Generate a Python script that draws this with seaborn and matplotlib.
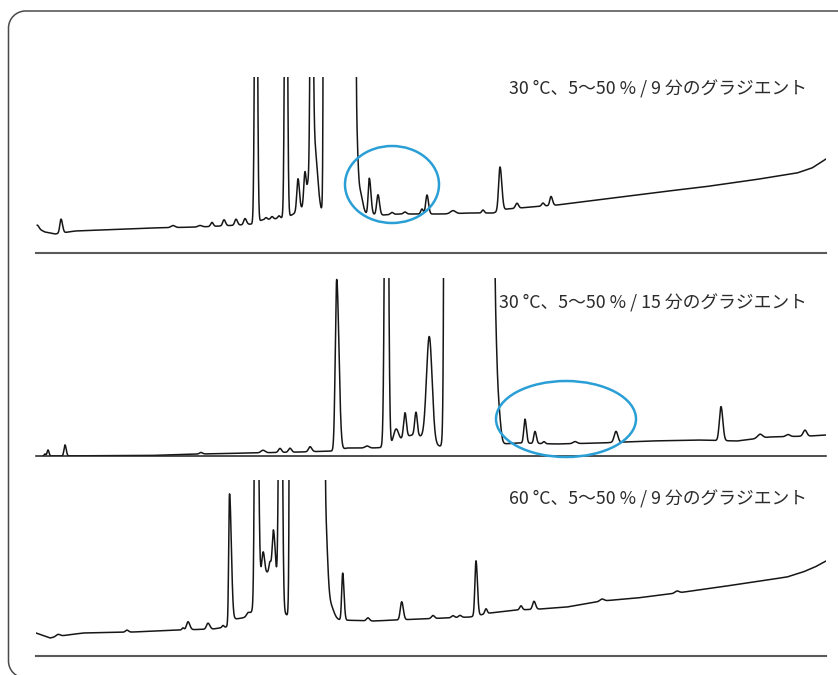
import numpy as np
import pandas as pd
import matplotlib
matplotlib.use("Agg")
import matplotlib.pyplot as plt
from matplotlib.patches import Ellipse, PathPatch
from matplotlib.path import Path
from matplotlib.transforms import IdentityTransform
import seaborn as sns

# ---------------- data (retention position in a.u., signal in a.u.) ----------------
labels = ["30 °C、5～50 % / 9 分のグラジエント",
          "30 °C、5～50 % / 15 分のグラジエント",
          "60 °C、5～50 % / 9 分のグラジエント"]

# Panel 1 : 30 C, 9 min gradient
p1_base_x = [37, 45, 55, 75, 100, 150, 200, 240, 252, 262, 283, 300, 322, 365, 383,
             400, 443, 470, 493, 507, 520, 530, 557, 580, 620, 660, 703, 753, 797, 812, 826]
p1_base_y = [25, 21, 19, 22, 23, 25, 26, 28, 29, 33, 35, 37, 38, 39, 38,
             39, 39, 40, 40, 44, 45, 46, 48, 51, 56, 61, 66, 73, 80, 85, 94]
p1_pos = [37.5, 61, 173, 200, 212, 224, 236, 245, 256, 266, 272, 279, 286, 305, 298,
          305, 308, 311.5, 314, 339.5, 356, 360, 369.3, 378, 392, 405, 422, 427, 453,
          483, 500, 517, 543, 551]
p1_height = [3, 14, 2, 1.5, 4, 6, 6, 6, 500, 2, 2.5, 2.5, 500, 8, 32,
             36, 20, 400, 70, 1e12, 85, 22, 36, 20, 2, 2, 5, 19, 3,
             3, 44, 5, 3, 9]
p1_wl = [1.5, 1.2, 2, 2, 1.3, 1.3, 1.3, 1.3, 1.15, 1.2, 1.2, 1.2, 1.15, 8, 1.2,
         1.2, 1.0, 1.2, 1.5, 2.45, 1.6, 2.5, 1.1, 1.3, 1.5, 1.5, 1.2, 1.3, 2.5,
         1.2, 1.4, 1.5, 1.3, 1.2]
p1_wr = [1.5, 1.5, 2, 2, 1.3, 1.5, 1.5, 1.5, 1.15, 1.2, 1.2, 1.2, 1.15, 8, 1.4,
         1.3, 1.0, 1.2, 3.2, 2.45, 1.6, 2.5, 1.6, 1.5, 1.5, 1.5, 1.2, 1.5, 2.5,
         1.2, 1.8, 1.5, 1.3, 1.5]

# Panel 2 : 30 C, 15 min gradient
p2_base_x = [43, 150, 200, 250, 300, 333, 340, 347, 383, 442, 500, 520, 557, 600,
             650, 697, 737, 770, 810, 826]
p2_base_y = [0, 0.5, 2, 3, 4, 5, 6, 8, 8, 8, 12, 13, 12, 13,
             15, 16, 15, 19, 20, 21]
p2_pos = [45, 48, 65, 201, 263, 280, 290, 310, 336.7, 367, 386.5, 396, 414, 405,
          416, 429.3, 469, 495, 498, 525, 535, 544, 575, 616, 721, 760, 788, 805]
p2_height = [2, 6, 11, 1.5, 2.5, 4, 4, 5, 171, 2, 600, 14, 13, 25,
             23, 105, 1e12, 100, 40, 24, 12, 2, 2, 11, 34, 4, 2, 6]
p2_wl = [0.8, 0.9, 1.0, 1.5, 2, 1.5, 1.5, 1.5, 1.4, 2, 1.5, 2.5, 13, 1.4,
         1.3, 2.8, 3.8, 1.6, 2.2, 1.2, 1.2, 1.2, 2, 1.8, 1.6, 2.5, 2, 1.8]
p2_wr = [0.8, 1.0, 1.2, 1.5, 2, 1.5, 1.5, 1.8, 2.2, 2, 1.5, 2.5, 13, 1.4,
         1.3, 2.8, 3.8, 1.6, 2.2, 1.4, 1.4, 1.2, 2, 1.8, 1.8, 2.5, 2, 1.8]

# Panel 3 : 60 C, 9 min gradient
p3_base_x = [36, 50, 60, 83, 133, 180, 213, 226, 235, 253, 288, 340, 373, 420, 470,
             490, 517, 540, 567, 602, 637, 677, 720, 753, 787, 803, 815, 826]
p3_base_y = [23, 18, 20, 23, 24, 26, 27, 29, 37, 39, 38, 36, 35, 37, 39,
             43, 46, 47, 49, 55, 58, 63, 69, 74, 79, 84, 89, 95]
p3_pos = [58, 127, 183, 188, 208, 223, 229.5, 248, 256, 263, 268, 270, 273.5, 280.5,
          307, 325, 330, 342.7, 368, 401.7, 433, 453, 460, 476, 486, 521, 534, 602, 677]
p3_height = [2, 2, 2, 8, 6, 2, 130, 3, 500, 28, 45, 11, 52, 500,
             1e12, 100, 15, 47, 3, 18, 3, 2, 2, 55, 5, 4, 8, 2, 2]
p3_wl = [2, 1.5, 1, 1.5, 1.5, 1, 0.8, 1.5, 1.15, 1.5, 8, 1.0, 1.3, 1.4,
         2.67, 2.2, 3.5, 1.0, 1.5, 1.4, 1.5, 1.5, 1.5, 1.1, 1.2, 1.3, 1.4, 2, 2]
p3_wr = [2, 1.5, 1, 1.8, 1.8, 1, 1.8, 1.5, 1.75, 1.5, 8, 1.0, 2.0, 1.4,
         2.67, 2.2, 3.5, 1.3, 1.5, 1.6, 1.5, 1.5, 1.5, 1.4, 1.2, 1.3, 1.6, 2, 2]

panels = [
    (p1_base_x, p1_base_y, p1_pos, p1_height, p1_wl, p1_wr),
    (p2_base_x, p2_base_y, p2_pos, p2_height, p2_wl, p2_wr),
    (p3_base_x, p3_base_y, p3_pos, p3_height, p3_wl, p3_wr),
]

# highlighted regions (centre x, centre y, width, height) per panel
ellipses = {0: (392, 68.5, 94, 77), 1: (566, 37, 140, 76)}


def build_trace(bx, by, pos, height, wl, wr):
    x = np.arange(bx[0], bx[-1] + 0.05, 0.1)
    y = np.interp(x, bx, by)
    for c, a, sl, sr in zip(pos, height, wl, wr):
        s = np.where(x < c, sl, sr)
        y = y + a * np.exp(-0.5 * ((x - c) / s) ** 2)
    return pd.DataFrame({"t": x, "signal": np.minimum(y, 1000.0)})


# ---------------- figure ----------------
sns.set_theme(style="white")
plt.rcParams["font.family"] = ["Noto Sans CJK JP", "DejaVu Sans"]

W, H = 838, 675
fig = plt.figure(figsize=(W / 100, H / 100), dpi=100)
fig.patch.set_facecolor("white")

# rounded frame, open on the right / bottom (runs off the image)
fl, ft, fb, r = 8.5, 664.0, -3.0, 17.0   # display pixels (origin bottom-left)
k = 0.5523 * r
verts = [(W + 30, ft), (fl + r, ft),
         (fl + r - k, ft), (fl, ft - r + k), (fl, ft - r),
         (fl, fb + r),
         (fl, fb + r - k), (fl + r - k, fb), (fl + r, fb),
         (W + 30, fb)]
codes = [Path.MOVETO, Path.LINETO,
         Path.CURVE4, Path.CURVE4, Path.CURVE4,
         Path.LINETO,
         Path.CURVE4, Path.CURVE4, Path.CURVE4,
         Path.LINETO]
frame = PathPatch(Path(verts, codes), transform=IdentityTransform(),
                  facecolor="none", edgecolor="#4a4a4a", linewidth=1.1)
fig.patches.append(frame)

# axes geometry (pixel rows: top, bottom)
rows = [(77, 253), (278, 456), (480, 656)]
x0, x1 = 36, 826
spine_col = ["#5a5a5a", "#1e1e1e", "#5a5a5a"]
spine_lw = [1.5, 1.1, 1.5]
label_y = [89.5, 303.5, 499]

for i, ((top, bot), data) in enumerate(zip(rows, panels)):
    ax = fig.add_axes([x0 / W, (H - bot) / H, (x1 - x0) / W, (bot - top) / H])
    df = build_trace(*data)
    sns.lineplot(data=df, x="t", y="signal", ax=ax, color="#161616",
                 linewidth=1.1, estimator=None, sort=False)
    ax.set_xlim(x0, x1)
    ax.set_ylim(0, bot - top)
    ax.set_xlabel("")
    ax.set_ylabel("")
    ax.set_xticks([])
    ax.set_yticks([])
    for s in ["top", "left", "right"]:
        ax.spines[s].set_visible(False)
    ax.spines["bottom"].set_color(spine_col[i])
    ax.spines["bottom"].set_linewidth(spine_lw[i])
    ax.set_facecolor("none")
    if i in ellipses:
        cx, cy, ew, eh = ellipses[i]
        ax.add_patch(Ellipse((cx, cy), ew, eh, fill=False, edgecolor="#2a9fd6",
                             linewidth=1.8, clip_on=False, zorder=5))
    fig.text(807 / W, 1 - label_y[i] / H, labels[i], ha="right", va="center",
             fontsize=12.8, color="#2b2b2b")

fig.savefig("out.png", dpi=100, facecolor="white")
